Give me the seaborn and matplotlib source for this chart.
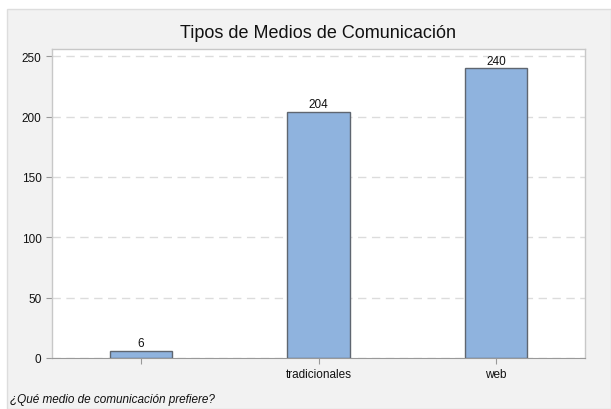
import matplotlib
matplotlib.use("Agg")
import matplotlib.pyplot as plt
import seaborn as sns
import pandas as pd
from matplotlib.patches import Rectangle

# DATA
categories = ["", "tradicionales", "web"]
counts = [6, 204, 240]
title = "Tipos de Medios de Comunicación"
footer = "¿Qué medio de comunicación prefiere?"

df = pd.DataFrame({"medio": categories, "n": counts})

sns.set_style("white")
plt.rcParams["font.family"] = ["Liberation Sans", "DejaVu Sans"]

fig = plt.figure(figsize=(6.11, 4.10), dpi=100, facecolor="white")

# gray panel behind the chart
panel = Rectangle((7 / 611, 0), 1 - 7 / 611, 1 - 10 / 410, transform=fig.transFigure,
                  facecolor="#f2f2f2", edgecolor="#dddddd", lw=1, zorder=-10)
fig.patches.append(panel)

ax = fig.add_axes([52 / 611, 1 - 359 / 410, 533 / 611, 309 / 410])
ax.set_facecolor("white")

sns.barplot(data=df, x="medio", y="n", color="#8fb3de", width=0.35,
            edgecolor="#5f6670", linewidth=1, saturation=1, ax=ax, zorder=3)

for i, v in enumerate(counts):
    ax.text(i, v + 1.5, str(v), ha="center", va="bottom", fontsize=8.5, color="#111111", zorder=4)

ax.set_xlim(-0.5, 2.5)
ax.set_ylim(0, 256)
ax.set_yticks([0, 50, 100, 150, 200, 250])
ax.yaxis.grid(True, linestyle=(0, (6, 4)), color="#dcdcdc", linewidth=1, zorder=0)
ax.set_axisbelow(True)

for s in ["top", "right", "left"]:
    ax.spines[s].set_color("#c8c8c8")
    ax.spines[s].set_linewidth(1)
ax.spines["bottom"].set_color("#999999")

ax.tick_params(axis="both", bottom=True, left=True, labelsize=8.5, colors="#111111",
               length=4, width=0.8, color="#999999")
ax.tick_params(axis="x", pad=3)
ax.set_xlabel("")
ax.set_ylabel("")

fig.text(0.5 * (52 + 585) / 611, 1 - 33 / 410, title, ha="center", va="center", fontsize=13, color="#111111")
fig.text(10 / 611, 1 - 400 / 410, footer, ha="left", va="center", fontsize=8.5, style="italic", color="#111111")

fig.savefig("out.png", dpi=100, facecolor=fig.get_facecolor())
plt.close(fig)
